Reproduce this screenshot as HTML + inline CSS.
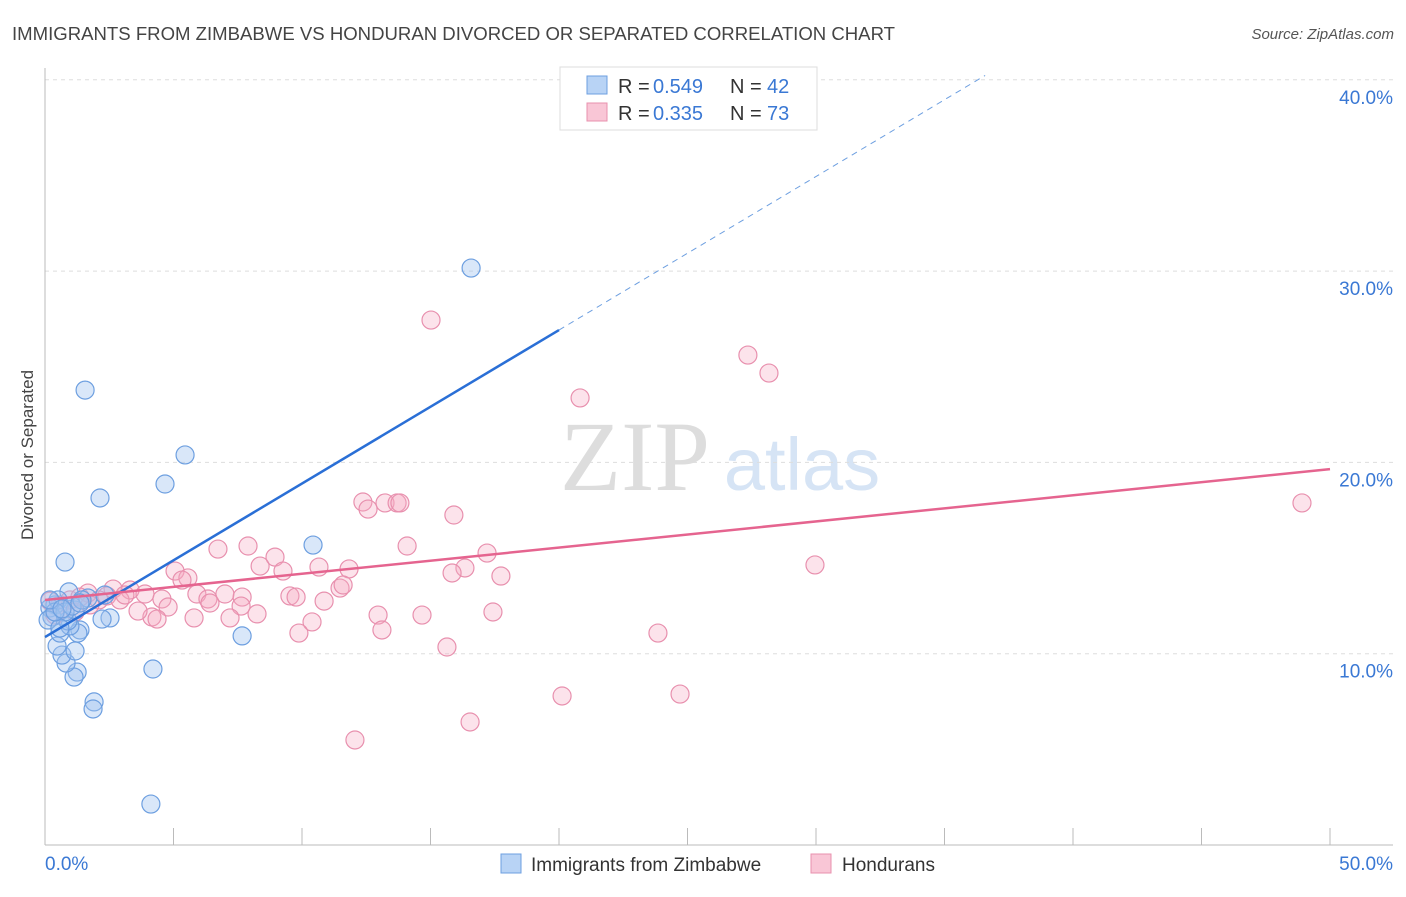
<!DOCTYPE html>
<html><head><meta charset="utf-8"><style>
body{margin:0;background:#fff;font-family:"Liberation Sans",sans-serif;}
svg text{font-family:"Liberation Sans",sans-serif;}
</style></head><body>
<svg id="chart" width="1406" height="892" viewBox="0 0 1406 892" xmlns="http://www.w3.org/2000/svg">
<text x="12" y="40" font-size="18" fill="#444" textLength="883" lengthAdjust="spacingAndGlyphs">IMMIGRANTS FROM ZIMBABWE VS HONDURAN DIVORCED OR SEPARATED CORRELATION CHART</text>
<text x="1394" y="39" font-size="15" fill="#555" font-style="italic" text-anchor="end">Source: ZipAtlas.com</text>
<g>
<text x="635" y="490" font-size="100" fill="#ddd" text-anchor="middle" style="font-family:'Liberation Serif',serif">ZIP</text>
<text x="802" y="490" font-size="74" fill="#d6e4f5" text-anchor="middle">atlas</text>
</g>
<g id="grid"></g>
<g id="axes"></g>
<g id="marks"></g>
<text transform="translate(33,455) rotate(-90)" font-size="17" fill="#444" text-anchor="middle">Divorced or Separated</text>
<g>
<rect x="560" y="67" width="257" height="63" fill="#fff" stroke="#ddd"/>
<rect x="587" y="76" width="20" height="18" fill="#b8d3f5" stroke="#6d9fe0"/>
<rect x="587" y="103" width="20" height="18" fill="#f9c6d6" stroke="#e890ae"/>
<text x="618" y="93" font-size="20" fill="#333">R =</text>
<text x="653" y="93" font-size="20" fill="#3a78d4">0.549</text>
<text x="730" y="93" font-size="20" fill="#333">N =</text>
<text x="767" y="93" font-size="20" fill="#3a78d4">42</text>
<text x="618" y="120" font-size="20" fill="#333">R =</text>
<text x="653" y="120" font-size="20" fill="#3a78d4">0.335</text>
<text x="730" y="120" font-size="20" fill="#333">N =</text>
<text x="767" y="120" font-size="20" fill="#3a78d4">73</text>
</g>
<g>
<rect x="501" y="854" width="20" height="19" fill="#b8d3f5" stroke="#6d9fe0"/>
<text x="531" y="871" font-size="19" fill="#333">Immigrants from Zimbabwe</text>
<rect x="811" y="854" width="20" height="19" fill="#f9c6d6" stroke="#e890ae"/>
<text x="842" y="871" font-size="19" fill="#333">Hondurans</text>
</g>
</svg>
<script>
const blueX=[16.58,1.56,5.45,4.67,2.14,0.78,10.43,7.67,4.20,4.12,1.91,1.87,1.25,1.13,0.82,0.66,1.17,0.47,0.58,2.53,2.22,1.36,1.28,0.97,0.89,1.67,1.17,0.93,0.39,0.19,0.27,0.12,0.51,0.78,1.05,1.44,0.58,0.39,0.19,2.33,1.36,0.66];
const blueY=[30.16,23.78,20.39,18.87,18.14,14.79,15.68,10.93,9.20,2.14,7.48,7.11,9.04,8.78,9.51,9.93,10.14,10.40,11.08,11.87,11.81,11.24,11.08,11.45,11.71,12.91,12.28,13.23,12.55,12.39,11.92,11.76,12.81,12.18,12.49,12.81,11.34,12.18,12.81,13.07,12.65,12.34];
const pinkX=[48.91,15.02,27.35,28.17,20.82,29.96,12.37,12.57,13.23,13.70,13.81,15.91,14.09,17.20,17.74,16.34,15.84,11.83,7.90,6.73,8.95,8.37,9.26,10.66,5.06,5.56,5.33,11.48,11.60,2.65,3.31,1.67,2.41,3.89,4.55,5.91,6.34,7.00,7.67,9.53,9.77,10.86,4.79,4.16,4.36,3.62,5.80,6.42,7.63,8.25,7.20,10.39,9.88,12.96,13.11,14.67,17.43,15.64,23.85,20.12,24.71,16.54,12.06,2.10,0.97,0.58,1.17,0.39,1.75,2.92,3.11,0.19,1.36];
const pinkY=[17.88,27.44,25.61,24.67,23.37,14.64,17.93,17.56,17.88,17.88,17.88,17.25,15.63,15.26,14.06,14.48,14.22,14.43,15.63,15.47,15.05,14.58,14.32,14.53,14.32,13.96,13.85,13.43,13.59,13.38,13.33,13.17,13.02,13.12,12.86,13.12,12.86,13.12,12.96,13.02,12.96,12.75,12.44,11.92,11.81,12.23,11.87,12.65,12.49,12.08,11.87,11.66,11.08,12.02,11.24,12.02,12.18,10.35,11.08,7.79,7.89,6.43,5.49,12.81,12.81,12.55,12.18,12.02,12.55,12.81,13.07,12.75,12.96];
const yTicks=[10,20,30,40];
const yTickLabels=["10.0%","20.0%","30.0%","40.0%"];
const xTicks=[0,5,10,15,20,25,30,35,40,45,50];
const blueTrend={b0:10.87,slope:0.8025,solidEnd:20,dashEnd:36.58};
const pinkTrend={b0:12.81,slope:0.1368};
const NS="http://www.w3.org/2000/svg";
const xs=v=>45+v*25.7, ys=v=>845-v*19.13;
function mk(tag,attrs,parent){const e=document.createElementNS(NS,tag);for(const k in attrs)e.setAttribute(k,attrs[k]);document.getElementById(parent).appendChild(e);return e;}
yTicks.forEach((t,i)=>{
 const g=mk('line',{x1:45,x2:1393,y1:ys(t),y2:ys(t),stroke:'#ddd','stroke-dasharray':'4,4'},'grid');
 
 
 const l=mk('text',{x:1393,y:ys(t)+24,'font-size':19,fill:'#3a78d4','text-anchor':'end'},'axes');
 l.textContent=yTickLabels[i];
 
 
});
const ax=mk('line',{x1:45,x2:1393,y1:845,y2:845,stroke:'#bbb'},'axes');


const ay=mk('line',{x1:45,x2:45,y1:68,y2:845,stroke:'#bbb'},'axes');


xTicks.forEach(t=>{
 const k=mk('line',{x1:xs(t),x2:xs(t),y1:828,y2:845,stroke:'#bbb'},'axes');
 
 
});
const xl0=mk('text',{x:45,y:870,'font-size':19,fill:'#3a78d4'},'axes');xl0.textContent=xTicks[0].toFixed(1)+'%';


const xl1=mk('text',{x:1393,y:870,'font-size':19,fill:'#3a78d4','text-anchor':'end'},'axes');xl1.textContent=xTicks[xTicks.length-1].toFixed(1)+'%';


pinkX.forEach((x,i)=>{
 const c=mk('circle',{cx:xs(x),cy:ys(pinkY[i]),r:9,fill:'rgba(245,170,195,0.33)',stroke:'#e890ae','stroke-width':1.2},'marks');
 
 
});
blueX.forEach((x,i)=>{
 const c=mk('circle',{cx:xs(x),cy:ys(blueY[i]),r:9,fill:'rgba(160,196,240,0.4)',stroke:'#6d9fe0','stroke-width':1.2},'marks');
 
 
});
const bt=mk('line',{x1:xs(0),y1:ys(blueTrend.b0),x2:xs(blueTrend.solidEnd),y2:ys(blueTrend.b0+blueTrend.slope*blueTrend.solidEnd),stroke:'#2a6fd6','stroke-width':2.5},'marks');


const bd=mk('line',{x1:xs(blueTrend.solidEnd),y1:ys(blueTrend.b0+blueTrend.slope*blueTrend.solidEnd),x2:xs(blueTrend.dashEnd),y2:ys(blueTrend.b0+blueTrend.slope*blueTrend.dashEnd),stroke:'#6d9fe0','stroke-width':1,'stroke-dasharray':'6,5'},'marks');


const pt=mk('line',{x1:xs(0),y1:ys(pinkTrend.b0),x2:xs(50),y2:ys(pinkTrend.b0+pinkTrend.slope*50),stroke:'#e5648f','stroke-width':2.5},'marks');


</script>
</body></html>
